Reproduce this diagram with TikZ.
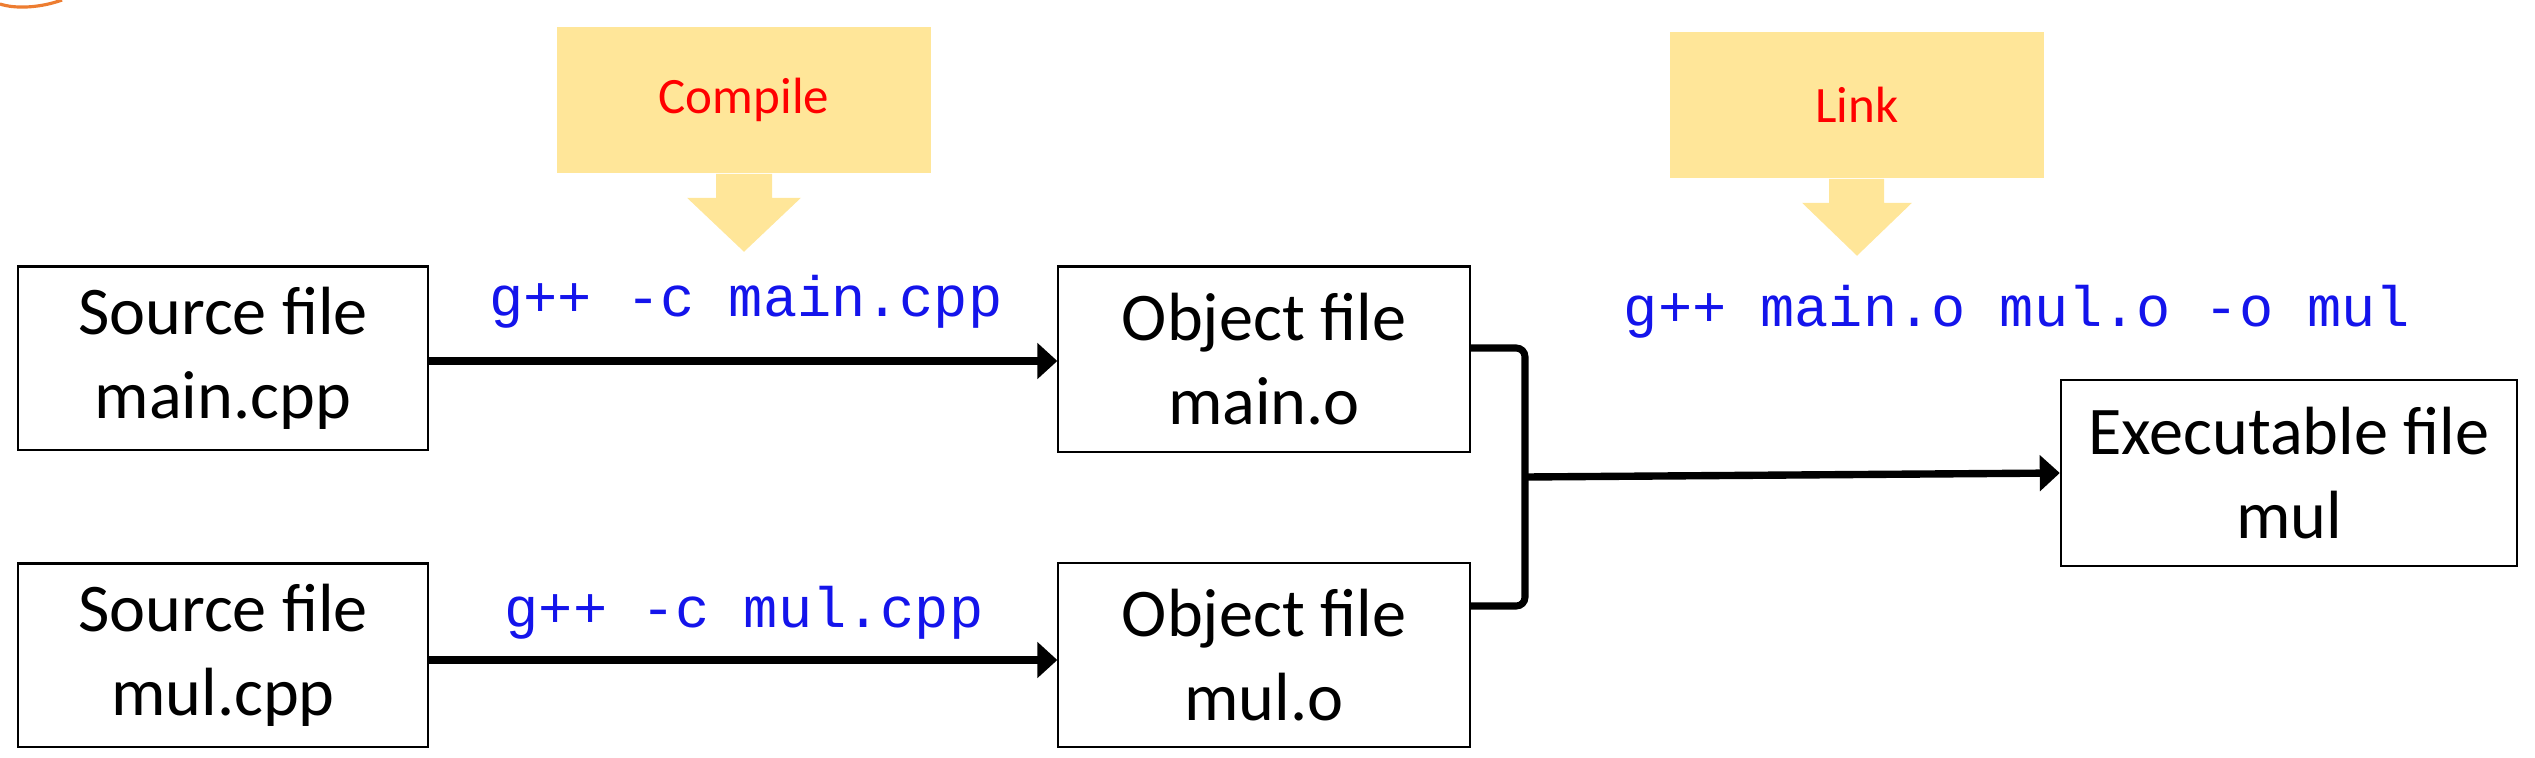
\documentclass[tikz,border=0pt]{standalone}
\usepackage{fontspec}
\setmainfont{Carlito}
\setmonofont{Liberation Mono}
\usepackage{tikz}
\usetikzlibrary{arrows.meta, positioning, calc}
\definecolor{calloutyellow}{RGB}{255, 230, 153}
\definecolor{cmdblue}{RGB}{20, 20, 235}
\definecolor{ringorange}{RGB}{237, 125, 49}

\begin{document}
\begin{tikzpicture}[x=0.01cm, y=-0.01cm,
    filebox/.style={draw, line width=0.6pt, align=center, inner sep=0pt,
      font=\fontsize{19.4}{23.9}\selectfont},
    cmd/.style={text=cmdblue, font=\ttfamily\fontsize{16.2}{19}\selectfont, inner sep=0pt},
    callout/.style={fill=calloutyellow, text=red, inner sep=0pt,
      minimum width=3.74cm, minimum height=1.46cm, font=\fontsize{14.5}{17}\selectfont},
    flow/.style={line width=2.1pt, -{Triangle[length=5.7pt, width=10pt]}},
    joint/.style={line width=2pt, rounded corners=2.5pt}]
  \useasboundingbox (0,0) rectangle (2535,757);

  % bit of the ring in the corner
  \draw[ringorange, line width=0.9pt] (0,4) .. controls (15,9) and (40,8) .. (62,0);

  % files
  \node[filebox, minimum width=4.09cm, minimum height=1.83cm] (srcmain) at (223,358) {Source file\\main.cpp};
  \node[filebox, minimum width=4.09cm, minimum height=1.83cm] (srcmul) at (223,655) {Source file\\mul.cpp};
  \node[filebox, minimum width=4.11cm, minimum height=1.85cm] (objmain) at (1264,359) {Object file\\main.o};
  \node[filebox, minimum width=4.11cm, minimum height=1.84cm] (objmul) at (1264,655) {Object file\\mul.o};
  \node[filebox, minimum width=4.56cm, minimum height=1.86cm] (exec) at (2289,473) {Executable file\\mul};

  % compile step
  \node[callout] (compile) at (744,100) {Compile};
  \fill[calloutyellow] ($(compile.south)+(-28,0)$) -- ++(0,24) -- ++(-29,0) --
    ($(compile.south)+(0,78)$) -- ++(57,-54) -- ++(-29,0) -- ++(0,-24) -- cycle;

  % link step
  \node[callout] (link) at (1857,105) {Link};
  \fill[calloutyellow] ($(link.south)+(-28,0)$) -- ++(0,24) -- ++(-27,0) --
    ($(link.south)+(0,77)$) -- ++(55,-53) -- ++(-28,0) -- ++(0,-24) -- cycle;

  % commands
  \node[cmd] (ccmain) at (746,302) {g++ -c main.cpp};
  \node[cmd] (ccmul) at (744,613) {g++ -c mul.cpp};
  \node[cmd] (ldcmd) at (2017,312) {g++ main.o mul.o -o mul};

  \draw[flow] (srcmain.east |- 0,361) -- (objmain.west |- 0,361);
  \draw[flow] (srcmul.east |- 0,660) -- (objmul.west |- 0,660);

  % join both objects
  \coordinate (jtop) at (1525,348);
  \coordinate (jbot) at (1525,606);
  \coordinate (jmid) at (1525,477);
  \draw[joint] (objmain.east |- jtop) -- (jtop) -- (jbot) -- (objmul.east |- jbot);
  \draw[flow] (jmid) -- (exec.west);
\end{tikzpicture}
\end{document}
